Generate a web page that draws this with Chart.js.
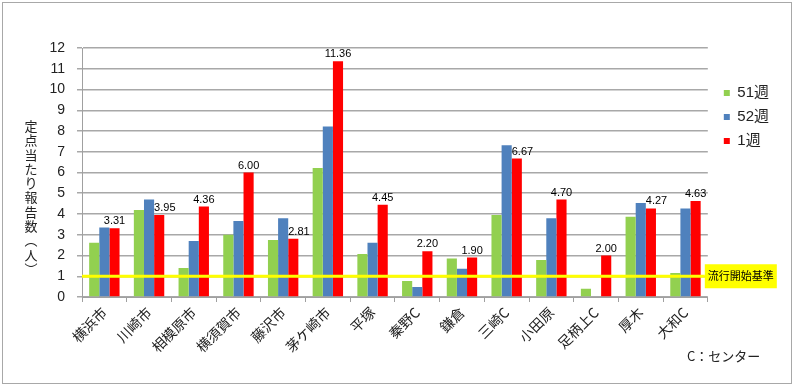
<!DOCTYPE html>
<html>
<head>
<meta charset="utf-8">
<script src="https://cdn.jsdelivr.net/npm/chart.js@4.4.1/dist/chart.umd.min.js"></script>
<style>
  body { margin: 0; background: #fff; }
</style>
</head>
<body>
<canvas id="flu_chart" width="797" height="387"></canvas>
<script>
const areas = ['横浜市', '川崎市', '相模原市', '横須賀市', '藤沢市', '茅ケ崎市', '平塚', '秦野C', '鎌倉', '三崎C', '小田原', '足柄上C', '厚木', '大和C'];
const week51 = [2.62, 4.19, 1.40, 3.00, 2.75, 6.22, 2.07, 0.77, 1.86, 3.95, 1.78, 0.40, 3.87, 1.16];
const week52 = [3.35, 4.70, 2.70, 3.66, 3.79, 8.22, 2.62, 0.48, 1.36, 7.31, 3.79, 0, 4.53, 4.27];
const week1 = [3.31, 3.95, 4.36, 6.00, 2.81, 11.36, 4.45, 2.20, 1.90, 6.67, 4.70, 2.00, 4.27, 4.63];
const seriesNames = ['51週', '52週', '1週'];
const threshold = 1;
const thresholdLabel = '流行開始基準';
const yTitle = '定点当たり報告数︵人︶';
const footnote = 'C：センター';

const FONT = "'Liberation Sans', 'Noto Sans CJK JP', sans-serif";
const JP = "'Noto Sans CJK JP', sans-serif";

// extra drawing: frame, vertical axis title, threshold line, value labels
const extras = {
  id: 'extras',
  afterLayout(chart) {
    // nudge legend a bit away from the plot
    chart.legend.left += 7;
    chart.legend.right += 7;
  },
  afterDatasetsDraw(chart) {
    const { ctx, chartArea, scales: { y } } = chart;
    ctx.save();

    // threshold line + label box
    const ty = y.getPixelForValue(threshold);
    const boxX = chartArea.right - 3;
    ctx.strokeStyle = '#ffff00';
    ctx.lineWidth = 3;
    ctx.beginPath();
    ctx.moveTo(chartArea.left, ty);
    ctx.lineTo(boxX, ty);
    ctx.stroke();
    ctx.fillStyle = '#ffff00';
    ctx.fillRect(boxX, ty - 12, 72, 24);
    ctx.fillStyle = '#000';
    ctx.font = '11px ' + JP;
    ctx.textAlign = 'center';
    ctx.textBaseline = 'middle';
    ctx.fillText(thresholdLabel, boxX + 36, ty);

    // labels on the 1週 bars
    ctx.font = '11px ' + FONT;
    ctx.fillStyle = '#000';
    const meta = chart.getDatasetMeta(2);
    meta.data.forEach((bar, i) => {
      const shift = week52[i] > week1[i] + 0.2; // move right when the blue bar is in the way
      ctx.textAlign = shift ? 'left' : 'center';
      ctx.fillText(week1[i].toFixed(2), shift ? bar.x - bar.width / 2 : bar.x, bar.y - 7);
    });
    ctx.restore();
  },
  afterDraw(chart) {
    const { ctx } = chart;
    ctx.save();
    // outer frame
    ctx.strokeStyle = '#a8a8a8';
    ctx.lineWidth = 1;
    ctx.strokeRect(2.5, 2.5, 789, 381);

    // vertical (tategaki) axis title
    ctx.fillStyle = '#222';
    ctx.font = '13px ' + JP;
    ctx.textAlign = 'center';
    ctx.textBaseline = 'middle';
    [...yTitle].forEach((ch, i) => ctx.fillText(ch, 31, 126 + i * 14.3));

    // note
    ctx.textAlign = 'left';
    ctx.fillText(footnote, 687, 356);
    ctx.restore();
  }
};

const ctx = document.getElementById('flu_chart').getContext('2d');
const chart = new Chart(ctx, {
  type: 'bar',
  data: {
    labels: areas,
    datasets: [
      { label: seriesNames[0], data: week51, backgroundColor: '#92d050' },
      { label: seriesNames[1], data: week52, backgroundColor: '#4f81bd' },
      { label: seriesNames[2], data: week1, backgroundColor: '#ff0000' }
    ]
  },
  options: {
    responsive: false,
    animation: false,
    datasets: { bar: { categoryPercentage: 0.68, barPercentage: 1, borderWidth: 0 } },
    layout: { padding: { left: 42, top: 48, right: 25, bottom: 0 } },
    plugins: {
      tooltip: { enabled: false },
      legend: {
        position: 'right',
        align: 'start',
        title: { display: true, text: ' ', padding: { top: 14 }, font: { size: 12 } },
        labels: {
          boxWidth: 6,
          boxHeight: 6,
          padding: 9,
          color: '#222',
          font: { size: 15, family: FONT }
        }
      }
    },
    scales: {
      x: {
        afterFit: s => { s.height = 90; },
        grid: { offset: true, drawOnChartArea: false, tickLength: 5, color: '#a0a0a0' },
        border: { color: '#a0a0a0' },
        ticks: {
          autoSkip: false,
          maxRotation: 45,
          minRotation: 45,
          padding: 2,
          color: '#222',
          font: { size: 14, family: JP }
        }
      },
      y: {
        min: 0,
        max: 12,
        afterFit: s => { s.width = 40; },
        grid: { color: '#a8a8a8', lineWidth: 1.5, tickLength: 5 },
        border: { color: '#a0a0a0' },
        ticks: {
          stepSize: 1,
          padding: 12,
          color: '#222',
          font: { size: 14, family: FONT }
        }
      }
    }
  },
  plugins: [extras]
});
</script>
</body>
</html>
